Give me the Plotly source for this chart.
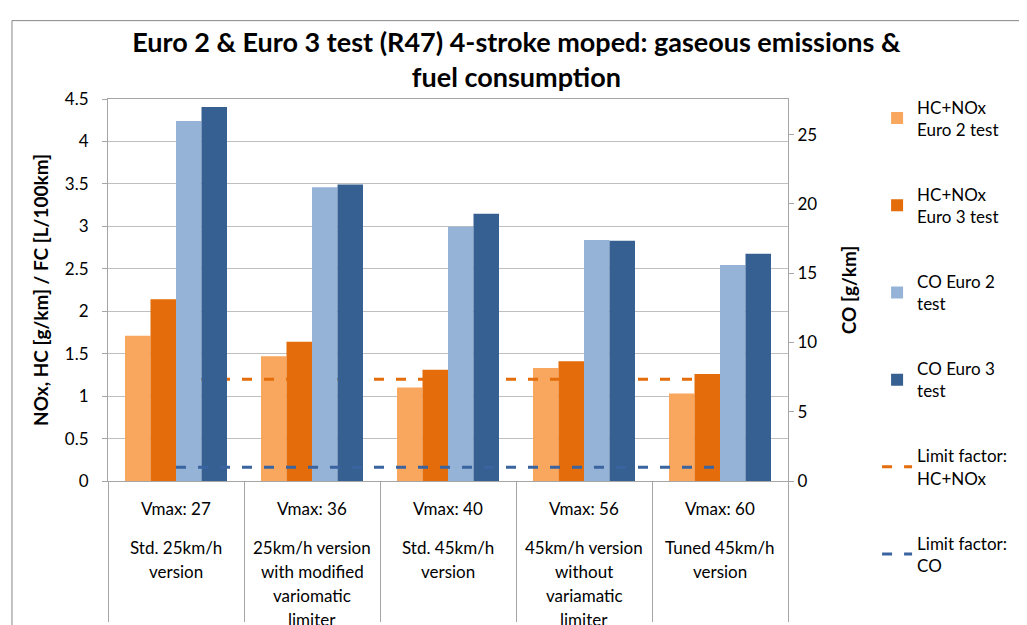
import plotly.graph_objects as go

# data
vmax_labels = ["Vmax: 27", "Vmax: 36", "Vmax: 40", "Vmax: 56", "Vmax: 60"]
versions = [
    ["Std. 25km/h", "version"],
    ["25km/h version", "with modified", "variomatic", "limiter"],
    ["Std. 45km/h", "version"],
    ["45km/h version", "without", "variamatic", "limiter"],
    ["Tuned 45km/h", "version"],
]
hc_nox_euro2 = [1.71, 1.47, 1.10, 1.33, 1.03]
hc_nox_euro3 = [2.14, 1.64, 1.31, 1.41, 1.26]
co_euro2 = [26.0, 21.2, 18.35, 17.4, 15.6]
co_euro3 = [27.0, 21.4, 19.3, 17.35, 16.4]
limit_hc_nox = [1.2, 1.2, 1.2, 1.2, 1.2]
limit_co = [1.0, 1.0, 1.0, 1.0, 1.0]

FONT = "Lato"
GRID = "#BFBFBF"
AXIS = "#A6A6A6"

fig = go.Figure()

bar_specs = [
    ("HC+NOx<br>Euro 2 test", hc_nox_euro2, "#F9A65F", "y", -0.375),
    ("HC+NOx<br>Euro 3 test", hc_nox_euro3, "#E46C0A", "y", -0.1875),
    ("CO Euro 2<br>test", co_euro2, "#95B3D7", "y2", 0.0),
    ("CO Euro 3<br>test", co_euro3, "#376092", "y2", 0.1875),
]
for i, (name, vals, color, yax, off) in enumerate(bar_specs):
    fig.add_trace(go.Bar(
        x=vmax_labels, y=vals, name=name, yaxis=yax,
        marker=dict(color=color, line=dict(width=0)),
        width=0.1875, offset=off,
        legendgroup=f"g{i}",
    ))

fig.add_trace(go.Scatter(
    x=vmax_labels, y=limit_hc_nox, name="Limit factor:<br>HC+NOx", mode="lines",
    line=dict(color="#E46C0A", width=3, dash="10px,12px"), legendgroup="g4",
))
fig.add_trace(go.Scatter(
    x=vmax_labels, y=limit_co, name="Limit factor:<br>CO", mode="lines", yaxis="y2",
    line=dict(color="#3A64A0", width=3, dash="10px,12px"), legendgroup="g5",
))

# category labels below the axis
annotations = []
for cat, lines in zip(vmax_labels, versions):
    annotations.append(dict(x=cat, xref="x", y=0, yref="paper", yanchor="middle",
                            yshift=-27, text=cat, showarrow=False,
                            font=dict(family=FONT, size=17, color="#000")))
    for k, line in enumerate(lines):
        annotations.append(dict(x=cat, xref="x", y=0, yref="paper", yanchor="middle",
                                yshift=-66 - 24.3 * k, text=line, showarrow=False,
                                font=dict(family=FONT, size=17, color="#000")))

fig.update_layout(
    width=1027, height=625,
    margin=dict(l=100, r=247, t=91, b=139),
    paper_bgcolor="white", plot_bgcolor="white",
    font=dict(family=FONT, size=17, color="#000"),
    barmode="overlay",
    title=dict(
        text="<b>Euro 2 & Euro 3 test (R47) 4-stroke moped: gaseous emissions &<br>fuel consumption</b>",
        x=0.495, xanchor="center", y=0.93, yanchor="top",
        font=dict(family=FONT, size=27, color="#000"),
    ),
    xaxis=dict(
        type="category", showgrid=False, showline=True, linecolor=AXIS, mirror=True,
        ticks="outside", tickson="boundaries", ticklen=140, tickcolor=AXIS,
        showticklabels=False, range=[-0.5, 4.5],
    ),
    yaxis=dict(
        range=[0, 4.5], dtick=0.5, showgrid=True, gridcolor=GRID,
        showline=True, linecolor=AXIS, ticks="outside", ticklen=5, tickcolor=AXIS,
        zeroline=False, tickfont=dict(size=17), ticklabelstandoff=10,
        title=dict(text="<b>NOx, HC [g/km] / FC [L/100km]</b>", standoff=11,
                   font=dict(family=FONT, size=19)),
    ),
    yaxis2=dict(
        overlaying="y", side="right", range=[0, 27.58], tickvals=[0, 5, 10, 15, 20, 25],
        showgrid=False, showline=True, linecolor=AXIS, ticks="outside", ticklen=5,
        tickcolor=AXIS, zeroline=False, tickfont=dict(size=17),
        title=dict(text="<b>CO [g/km]</b>", standoff=26, font=dict(family=FONT, size=19)),
    ),
    legend=dict(
        x=1.131, y=1.025, xanchor="left", yanchor="top",
        font=dict(family=FONT, size=17), tracegroupgap=40,
        traceorder="grouped", bgcolor="rgba(0,0,0,0)", maxheight=600,
    ),
    annotations=annotations,
    shapes=[dict(type="rect", xref="paper", yref="paper",
                 x0=-0.1412, x1=1.3588, y0=-0.45, y1=1.2051,
                 line=dict(color="#868686", width=1), layer="above")],
)

fig.write_html("out.html")
